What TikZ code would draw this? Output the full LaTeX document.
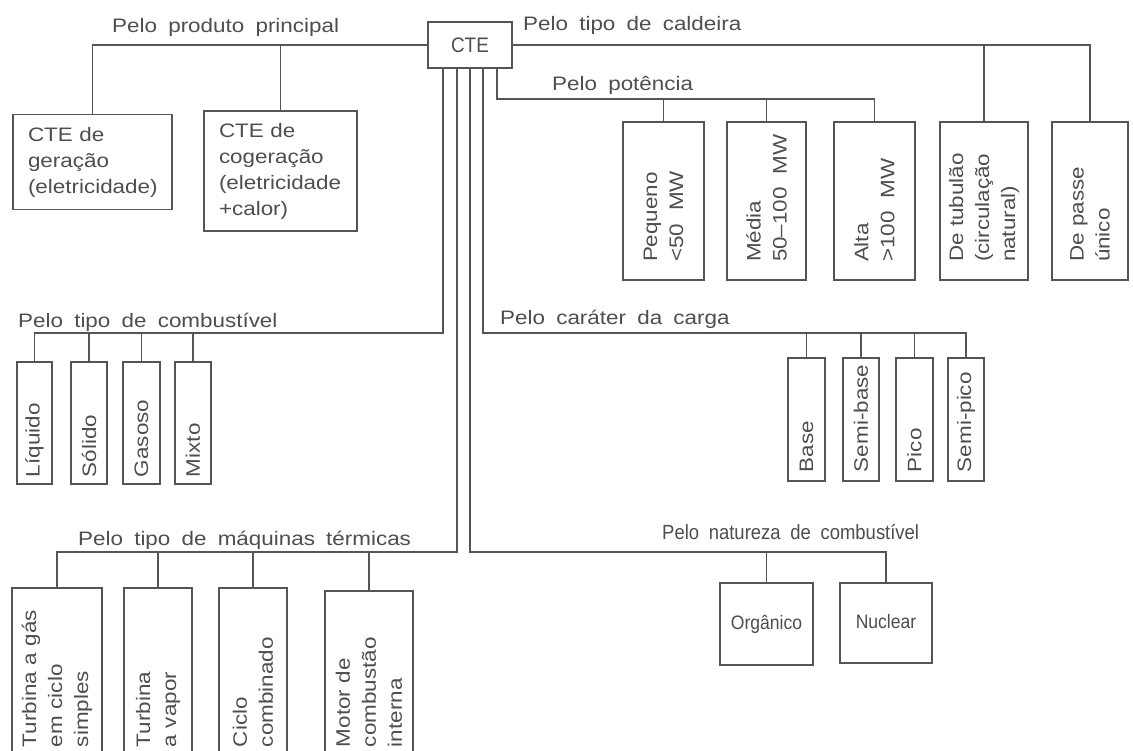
\documentclass[tikz,border=0pt]{standalone}
\usepackage{fontspec}
\setmainfont{Liberation Sans}[WordSpace=1.8,FakeStretch=1.15]
\newfontfamily\condf{Liberation Sans}[WordSpace=1.9,FakeStretch=0.9]
\definecolor{lc}{RGB}{85,85,85}
\definecolor{tc}{RGB}{78,78,78}
\begin{document}
\begin{tikzpicture}[x=1pt,y=-1pt,
  every node/.append style={font=\fontsize{19.5}{26}\selectfont},
  ln/.style={draw=lc, line width=1.9pt},
  hbox/.style={draw=lc, line width=1.9pt, text=tc, align=left, inner ysep=0pt},
  cbox/.style={draw=lc, line width=1.9pt, text=tc, align=center, inner sep=0pt},
  vbox/.style={draw=lc, line width=1.9pt, text=tc, rotate=90, align=left, inner ysep=0pt},
  cat/.style={text=tc, anchor=base west, inner sep=0pt}]
\useasboundingbox (0,0) rectangle (1133,751);
\fill[white] (0,0) rectangle (1133,751);

% level coordinates
\coordinate (ypot) at (0,99);
\coordinate (ycomb) at (0,333);
\coordinate (ymaq) at (0,552);

% root
\node[cbox, minimum width=84pt, minimum height=46pt, font=\condf\fontsize{21}{24}\selectfont] (cte) at (470,45) {CTE};

% labels
\node[cat] (lprod) at (112,33) {Pelo produto principal};
\node[cat] (lcald) at (523,31) {Pelo tipo de caldeira};
\node[cat] (lpot) at (552,91) {Pelo potência};
\node[cat] (lcomb) at (18,328) {Pelo tipo de combustível};
\node[cat] (lcarg) at (500,325) {Pelo caráter da carga};
\node[cat] (lmaq) at (78,545) {Pelo tipo de máquinas térmicas};
\node[cat, font=\condf\fontsize{20.5}{24}\selectfont] (lnat) at (662,539) {Pelo natureza de combustível};

% produto principal
\node[hbox, minimum width=159pt, minimum height=95pt, text width=129pt, inner xsep=15pt] (ger) at (92.5,162) {CTE de\\geração\\(eletricidade)};
\node[hbox, minimum width=153pt, minimum height=120pt, text width=123pt, inner xsep=15pt] (cog) at (280.5,171) {CTE de\\cogeração\\(eletricidade\\+calor)};

% potencia
\node[vbox, minimum height=81pt, text width=122pt, inner xsep=18pt] (peq) at (663.5,201) {\mbox{Pequeno}\\\mbox{<50~~MW}};
\node[vbox, minimum height=79pt, text width=122pt, inner xsep=18pt] (med) at (766.5,201) {\mbox{Média}\\\mbox{50–100~~MW}};
\node[vbox, minimum height=81pt, text width=122pt, inner xsep=18pt] (alt) at (874.5,201) {\mbox{Alta}\\\mbox{>100~~MW}};

% caldeira
\node[vbox, minimum height=88pt, text width=122pt, inner xsep=18pt] (tub) at (984,201) {\mbox{De tubulão}\\(circulação\\natural)};
\node[vbox, minimum height=76pt, text width=122pt, inner xsep=18pt] (pas) at (1090,201) {\mbox{De passe}\\único};

% combustivel
\node[vbox, minimum height=35pt, text width=108pt, inner xsep=7pt] (liq) at (34.5,423) {Líquido};
\node[vbox, minimum height=36pt, text width=108pt, inner xsep=7pt] (sol) at (89,423) {Sólido};
\node[vbox, minimum height=37pt, text width=108pt, inner xsep=7pt] (gas) at (141.5,423) {Gasoso};
\node[vbox, minimum height=36pt, text width=108pt, inner xsep=7pt] (mix) at (193,423) {Mixto};

% carga
\node[vbox, minimum height=37pt, text width=105pt, inner xsep=9pt] (bas) at (806.5,419.5) {Base};
\node[vbox, minimum height=36pt, text width=105pt, inner xsep=9pt] (sbas) at (861,419.5) {\mbox{Semi-base}};
\node[vbox, minimum height=37pt, text width=105pt, inner xsep=9pt] (pic) at (914.5,419.5) {Pico};
\node[vbox, minimum height=36pt, text width=105pt, inner xsep=9pt] (spic) at (966,419.5) {\mbox{Semi-pico}};

% maquinas
\node[vbox, minimum height=90pt, text width=141pt, inner xsep=18pt] (tg) at (57,676.5) {\mbox{Turbina a gás}\\\mbox{em ciclo}\\simples};
\node[vbox, minimum height=68pt, text width=141pt, inner xsep=18pt] (tv) at (158,676.5) {Turbina\\\mbox{a vapor}};
\node[vbox, minimum height=68pt, text width=141pt, inner xsep=18pt] (cc) at (253,676.5) {Ciclo\\combinado};
\node[vbox, minimum height=88pt, text width=138pt, inner xsep=18pt] (mot) at (369,678) {\mbox{Motor de}\\combustão\\interna};

% natureza
\node[cbox, minimum width=93pt, minimum height=82pt, font=\condf\fontsize{19.5}{22}\selectfont] (org) at (766.5,624) {Orgânico};
\node[cbox, minimum width=92pt, minimum height=80pt, font=\condf\fontsize{19.5}{22}\selectfont] (nuc) at (886,623) {\raisebox{4pt}{Nuclear}};

% connectors
\draw[ln] (cte.west) -| (ger.north);
\draw[ln] (cog.north |- cte.west) -- (cog.north);

\draw[ln] (cte.east) -| (pas.east);
\draw[ln] (tub.east |- cte.east) -- (tub.east);

\draw[ln] ([xshift=27pt]cte.south) |- (alt.east |- ypot) -- (alt.east);
\draw[ln] (peq.east |- ypot) -- (peq.east);
\draw[ln] (med.east |- ypot) -- (med.east);

\draw[ln] ([xshift=-27pt]cte.south) |- (liq.east |- ycomb) -- (liq.east);
\draw[ln] (sol.east |- ycomb) -- (sol.east);
\draw[ln] (gas.east |- ycomb) -- (gas.east);
\draw[ln] (mix.east |- ycomb) -- (mix.east);

\draw[ln] ([xshift=13pt]cte.south) |- (spic.east |- ycomb) -- (spic.east);
\draw[ln] (bas.east |- ycomb) -- (bas.east);
\draw[ln] (sbas.east |- ycomb) -- (sbas.east);
\draw[ln] (pic.east |- ycomb) -- (pic.east);

\draw[ln] ([xshift=-13pt]cte.south) |- (tg.east |- ymaq) -- (tg.east);
\draw[ln] (tv.east |- ymaq) -- (tv.east);
\draw[ln] (cc.east |- ymaq) -- (cc.east);
\draw[ln] (mot.east |- ymaq) -- (mot.east);

\draw[ln] (cte.south) |- (nuc.north |- ymaq) -- (nuc.north);
\draw[ln] (org.north |- ymaq) -- (org.north);
\end{tikzpicture}
\end{document}
